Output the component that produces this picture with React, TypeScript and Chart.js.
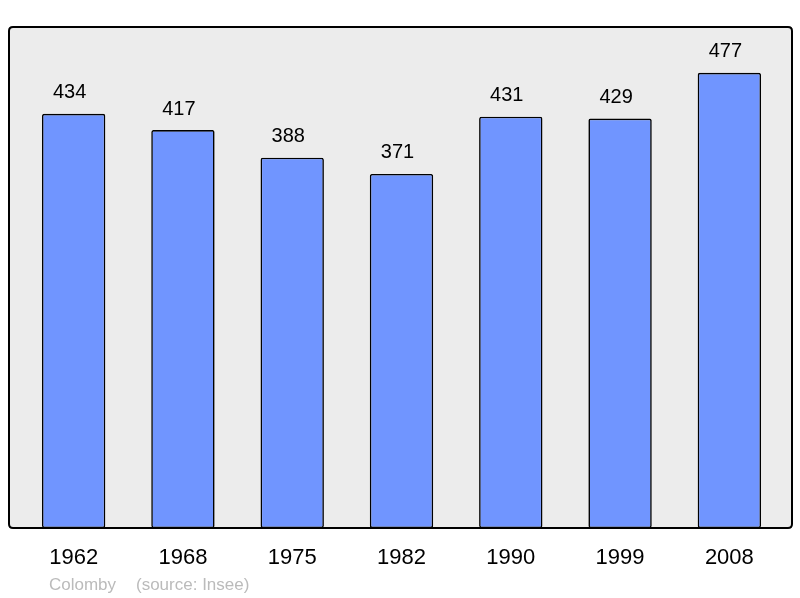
import React, { useEffect, useRef } from "react";
import { Chart, registerables } from "chart.js";

Chart.register(...registerables);

const categories = ["1962", "1968", "1975", "1982", "1990", "1999", "2008"];
const population = [434, 417, 388, 371, 431, 429, 477];
const footerPlace = "Colomby";
const footerSource = "(source: Insee)";

const FONT = "'Liberation Sans', Arial, sans-serif";

function framePath(ctx: CanvasRenderingContext2D) {
  const x0 = 9, y0 = 27, x1 = 792, y1 = 528, r = 4;
  ctx.beginPath();
  ctx.moveTo(x0 + r, y0);
  ctx.lineTo(x1 - r, y0);
  ctx.quadraticCurveTo(x1, y0, x1, y0 + r);
  ctx.lineTo(x1, y1 - r);
  ctx.quadraticCurveTo(x1, y1, x1 - r, y1);
  ctx.lineTo(x0 + r, y1);
  ctx.quadraticCurveTo(x0, y1, x0, y1 - r);
  ctx.lineTo(x0, y0 + r);
  ctx.quadraticCurveTo(x0, y0, x0 + r, y0);
  ctx.closePath();
}

const framePlugin = {
  id: "frame",
  beforeDraw(chart: any) {
    const ctx = chart.ctx;
    ctx.save();
    framePath(ctx);
    ctx.fillStyle = "#ececec";
    ctx.fill();
    ctx.restore();
  },
  afterDraw(chart: any) {
    const ctx = chart.ctx;
    ctx.save();
    framePath(ctx);
    ctx.lineWidth = 2;
    ctx.strokeStyle = "#000";
    ctx.stroke();

    // value labels
    const meta = chart.getDatasetMeta(0);
    ctx.fillStyle = "#000";
    ctx.font = `20px ${FONT}`;
    ctx.textAlign = "center";
    ctx.textBaseline = "middle";
    meta.data.forEach((bar: any, i: number) => {
      ctx.fillText(String(population[i]), bar.x - 4, bar.y - 21);
    });

    // footer
    ctx.fillStyle = "#bbbbbb";
    ctx.font = `17px ${FONT}`;
    ctx.textAlign = "left";
    ctx.fillText(footerPlace, 49, 585);
    ctx.fillText(footerSource, 136, 585);
    ctx.restore();
  },
};

export default function App() {
  const ref = useRef<HTMLCanvasElement | null>(null);
  useEffect(() => {
    if (!ref.current) return;
    const chart = new Chart(ref.current, {
      type: "bar",
      data: {
        labels: categories,
        datasets: [
          {
            data: population,
            backgroundColor: "#7095ff",
            borderColor: "#000",
            borderWidth: 1.6,
            borderRadius: 2,
            borderSkipped: false,
            categoryPercentage: 1,
            barPercentage: 0.58,
          },
        ],
      },
      options: {
        responsive: false,
        animation: false,
        layout: { padding: { left: 19, right: 16, top: 27, bottom: 0 } },
        plugins: { legend: { display: false }, tooltip: { enabled: false } },
        scales: {
          y: { display: false, min: 0, max: 525 },
          x: {
            grid: { display: false, drawTicks: false },
            border: { display: false },
            ticks: {
              color: "#000",
              font: { size: 22, family: FONT },
              padding: 17,
              maxRotation: 0,
            },
            afterFit: (scale: any) => {
              scale.height = 70;
            },
          },
        },
      },
      plugins: [framePlugin],
    });
    return () => chart.destroy();
  }, []);
  return (
    <canvas
      ref={ref}
      width={800}
      height={598}
      style={{ position: "fixed", left: 0, top: 0, width: 800, height: 598 }}
    />
  );
}
